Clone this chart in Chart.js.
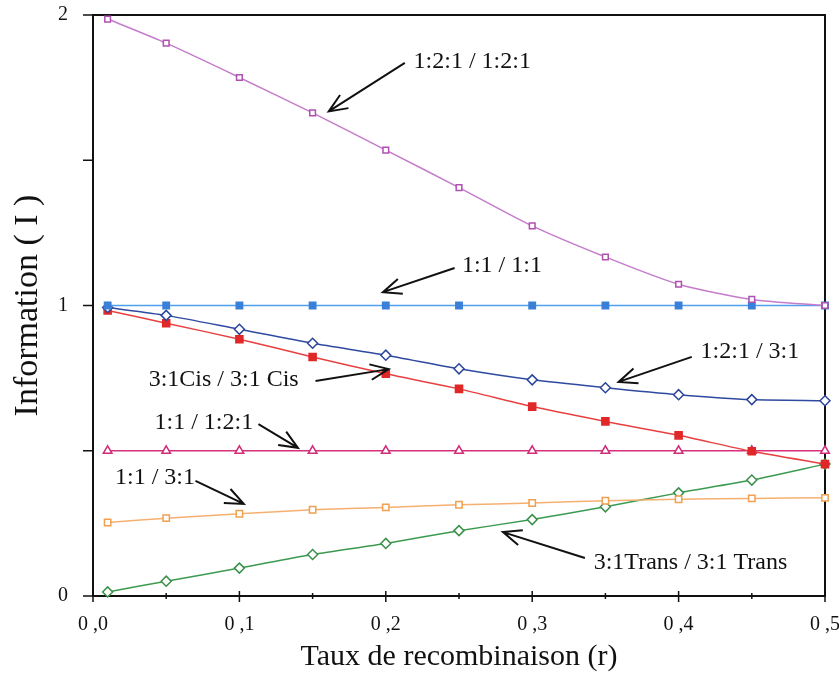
<!DOCTYPE html>
<html>
<head>
<meta charset="utf-8">
<script src="https://cdn.jsdelivr.net/npm/chart.js@4.4.1/dist/chart.umd.min.js"></script>
<style>
  body { margin: 0; background: #fff; }
  #wrap { width: 839px; height: 679px; }
</style>
</head>
<body>
<div id="wrap"><canvas id="infoChart" width="839" height="679"></canvas></div>
<script>
// recombination rate r
const rates = [0.01, 0.05, 0.1, 0.15, 0.2, 0.25, 0.3, 0.35, 0.4, 0.45, 0.5];

// information values
const i121_121 = [1.986, 1.903, 1.785, 1.663, 1.535, 1.406, 1.274, 1.167, 1.073, 1.021, 1.0];
const i11_11 = [1, 1, 1, 1, 1, 1, 1, 1, 1, 1, 1];
const i121_31 = [0.993, 0.966, 0.918, 0.87, 0.829, 0.782, 0.744, 0.717, 0.693, 0.676, 0.672];
const iCis = [0.983, 0.939, 0.884, 0.823, 0.765, 0.713, 0.652, 0.601, 0.553, 0.498, 0.454];
const i11_121 = [0.5, 0.5, 0.5, 0.5, 0.5, 0.5, 0.5, 0.5, 0.5, 0.5, 0.5];
const i11_31 = [0.253, 0.268, 0.283, 0.297, 0.305, 0.314, 0.32, 0.328, 0.333, 0.336, 0.338];
const iTrans = [0.014, 0.051, 0.096, 0.143, 0.181, 0.225, 0.263, 0.307, 0.355, 0.399, 0.454];

const yLabels = ["0", "1", "2"];
const xLabels = ["0 ,0", "0 ,1", "0 ,2", "0 ,3", "0 ,4", "0 ,5"];

// callouts: text position and arrow (from -> tip), in data units
const notes = [
  { text: "1:2:1 / 1:2:1", tx: 0.219, ty: 1.838, ax: 0.213, ay: 1.835, bx: 0.161, by: 1.668 },
  { text: "1:1 / 1:1", tx: 0.252, ty: 1.136, ax: 0.247, ay: 1.129, bx: 0.198, by: 1.046 },
  { text: "1:2:1 / 3:1", tx: 0.415, ty: 0.84, ax: 0.409, ay: 0.823, bx: 0.359, by: 0.737 },
  { text: "3:1Cis / 3:1 Cis", tx: 0.038, ty: 0.743, ax: 0.152, ay: 0.74, bx: 0.202, by: 0.781 },
  { text: "1:1 / 1:2:1", tx: 0.042, ty: 0.595, ax: 0.113, ay: 0.592, bx: 0.14, by: 0.51 },
  { text: "1:1 / 3:1", tx: 0.015, ty: 0.406, ax: 0.07, ay: 0.396, bx: 0.103, by: 0.317 },
  { text: "3:1Trans / 3:1 Trans", tx: 0.342, ty: 0.114, ax: 0.336, ay: 0.131, bx: 0.28, by: 0.22 },
];

function toPoints(values) {
  return rates.map((r, i) => ({ x: r, y: values[i] }));
}

function series(label, values, color, lineColor, style, radius, filled) {
  return {
    label: label,
    data: toPoints(values),
    borderColor: lineColor,
    borderWidth: 1.5,
    pointStyle: style,
    pointRadius: radius,
    pointBorderColor: color,
    pointBackgroundColor: filled ? color : "#fff",
    pointBorderWidth: 1.5,
    tension: 0.25,
    clip: false,
  };
}

// frame, ticks and callouts drawn by hand
const framePlugin = {
  id: "frame",
  beforeDatasetsDraw(chart) {
    const { ctx, chartArea: a, scales } = chart;
    ctx.save();
    ctx.strokeStyle = "#111";
    ctx.lineWidth = 2;
    ctx.strokeRect(a.left, a.top, a.right - a.left, a.bottom - a.top);
    ctx.lineWidth = 1.5;
    // x ticks, crossing the axis
    for (let v = 0; v <= 0.5001; v += 0.05) {
      const px = scales.x.getPixelForValue(v);
      const major = Math.round(v * 100) % 10 === 0;
      ctx.beginPath();
      ctx.moveTo(px, a.bottom - (major ? 5 : 3));
      ctx.lineTo(px, a.bottom + (major ? 6 : 3));
      ctx.stroke();
    }
    // y ticks, outside
    for (let v = 0; v <= 2.001; v += 0.5) {
      const py = scales.y.getPixelForValue(v);
      ctx.beginPath();
      ctx.moveTo(a.left - 10, py);
      ctx.lineTo(a.left, py);
      ctx.stroke();
    }
    ctx.restore();
  },
  afterDraw(chart) {
    const { ctx, scales } = chart;
    ctx.save();
    ctx.fillStyle = "#111";
    ctx.strokeStyle = "#111";
    ctx.lineWidth = 2;
    ctx.font = "24px 'Liberation Serif'";
    ctx.textBaseline = "middle";
    notes.forEach((n) => {
      ctx.fillText(n.text, scales.x.getPixelForValue(n.tx), scales.y.getPixelForValue(n.ty));
      const x1 = scales.x.getPixelForValue(n.ax);
      const y1 = scales.y.getPixelForValue(n.ay);
      const x2 = scales.x.getPixelForValue(n.bx);
      const y2 = scales.y.getPixelForValue(n.by);
      const ang = Math.atan2(y2 - y1, x2 - x1);
      ctx.beginPath();
      ctx.moveTo(x1, y1);
      ctx.lineTo(x2, y2);
      ctx.moveTo(x2 - 20 * Math.cos(ang - 0.4), y2 - 20 * Math.sin(ang - 0.4));
      ctx.lineTo(x2, y2);
      ctx.lineTo(x2 - 20 * Math.cos(ang + 0.4), y2 - 20 * Math.sin(ang + 0.4));
      ctx.stroke();
    });
    ctx.restore();
  },
};

const ctx = document.getElementById("infoChart").getContext("2d");
new Chart(ctx, {
  type: "line",
  data: {
    datasets: [
      series("1:2:1 / 1:2:1", i121_121, "#b050b0", "#c47ccb", "rect", 4, false),
      series("1:1 / 1:1", i11_11, "#3a80d8", "#4fa0f0", "rect", 4.5, true),
      series("1:2:1 / 3:1", i121_31, "#2c459c", "#2f4aa0", "rectRot", 5, false),
      series("3:1Cis / 3:1 Cis", iCis, "#e02828", "#e84040", "rect", 5, true),
      series("1:1 / 1:2:1", i11_121, "#d02c78", "#d8307a", "triangle", 5, false),
      series("1:1 / 3:1", i11_31, "#f0a050", "#f5b070", "rect", 4.5, false),
      series("3:1Trans / 3:1 Trans", iTrans, "#3a9048", "#3c9a50", "rectRot", 5, false),
    ],
  },
  options: {
    responsive: false,
    animation: false,
    layout: { padding: { top: 15, right: 14, left: 0, bottom: 0 } },
    plugins: {
      legend: { display: false },
      tooltip: { enabled: false },
    },
    scales: {
      x: {
        type: "linear",
        min: 0,
        max: 0.5,
        afterFit: (s) => {
          s.height = 83;
          s.paddingLeft = 0;
          s.paddingRight = 0;
        },
        grid: { display: false, drawTicks: false },
        border: { display: false },
        ticks: {
          stepSize: 0.1,
          padding: 17,
          color: "#111",
          font: { family: "'Liberation Serif'", size: 20 },
          callback: (v) => xLabels[Math.round(v * 10)],
        },
        title: {
          display: true,
          text: "Taux de recombinaison (r)",
          color: "#111",
          font: { family: "'Liberation Serif'", size: 30 },
          padding: { top: 2 },
        },
      },
      y: {
        min: 0,
        max: 2,
        afterFit: (s) => {
          s.width = 93;
          s.paddingTop = 0;
          s.paddingBottom = 0;
        },
        grid: { display: false, drawTicks: false },
        border: { display: false },
        ticks: {
          stepSize: 1,
          padding: 25,
          color: "#111",
          font: { family: "'Liberation Serif'", size: 20 },
          callback: (v) => yLabels[v],
        },
        title: {
          display: true,
          text: "Information ( I )",
          color: "#111",
          font: { family: "'Liberation Serif'", size: 34 },
          padding: { top: 8, bottom: 0 },
        },
      },
    },
  },
  plugins: [framePlugin],
});
</script>
</body>
</html>
